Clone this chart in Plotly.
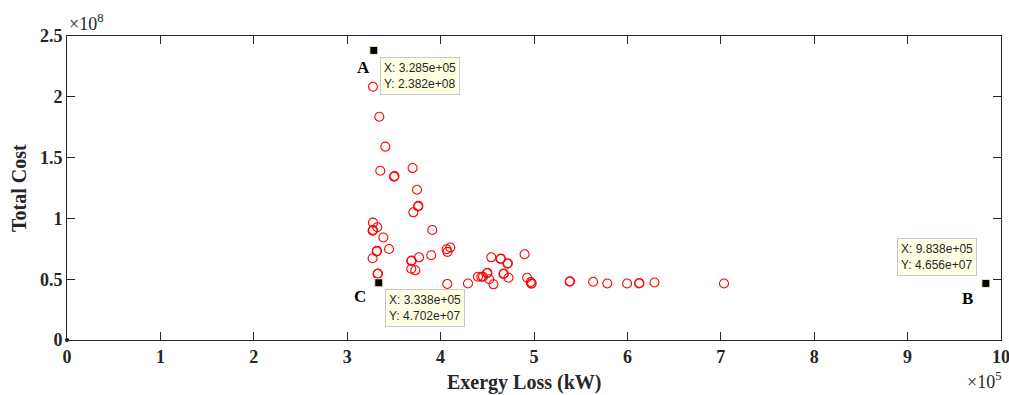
import plotly.graph_objects as go

# Pareto front data (Exergy loss in kW, Total cost)
exergy_loss = [
    3.276e5, 3.344e5, 3.408e5, 3.354e5, 3.501e5, 3.506e5, 3.700e5, 3.747e5, 3.758e5, 3.762e5,
    3.708e5, 3.276e5, 3.322e5, 3.272e5, 3.277e5, 3.387e5, 3.911e5, 3.315e5, 3.320e5, 3.448e5,
    4.064e5, 4.104e5, 4.074e5, 3.272e5, 3.686e5, 3.690e5, 3.769e5, 3.686e5, 3.729e5, 3.900e5,
    3.325e5, 3.329e5, 4.072e5, 4.293e5, 4.400e5, 4.436e5, 4.454e5, 4.497e5, 4.501e5, 4.521e5,
    4.566e5, 4.543e5, 4.642e5, 4.646e5, 4.716e5, 4.720e5, 4.673e5, 4.677e5, 4.727e5, 4.899e5,
    4.926e5, 4.966e5, 4.971e5, 4.975e5, 5.381e5, 5.385e5, 5.633e5, 5.785e5, 5.997e5, 6.125e5,
    6.129e5, 6.290e5, 7.034e5,
]
total_cost = [
    2.083e8, 1.836e8, 1.590e8, 1.392e8, 1.343e8, 1.348e8, 1.414e8, 1.236e8, 1.098e8, 1.103e8,
    1.050e8, 0.965e8, 0.927e8, 0.899e8, 0.904e8, 0.843e8, 0.905e8, 0.729e8, 0.733e8, 0.748e8,
    0.746e8, 0.761e8, 0.725e8, 0.672e8, 0.650e8, 0.654e8, 0.680e8, 0.586e8, 0.573e8, 0.697e8,
    0.543e8, 0.547e8, 0.461e8, 0.465e8, 0.520e8, 0.520e8, 0.520e8, 0.549e8, 0.553e8, 0.500e8,
    0.458e8, 0.680e8, 0.666e8, 0.670e8, 0.627e8, 0.631e8, 0.543e8, 0.547e8, 0.512e8, 0.705e8,
    0.512e8, 0.477e8, 0.463e8, 0.467e8, 0.479e8, 0.483e8, 0.479e8, 0.465e8, 0.465e8, 0.465e8,
    0.469e8, 0.473e8, 0.465e8,
]

# Highlighted data tips
tip_names = ["A", "B", "C"]
tip_x = [3.285e5, 9.838e5, 3.338e5]
tip_y = [2.382e8, 4.656e7, 4.702e7]

x_ticks = [i * 1e5 for i in range(11)]
x_ticklabels = [str(i) for i in range(11)]
y_ticks = [0, 0.5e8, 1e8, 1.5e8, 2e8, 2.5e8]
y_ticklabels = ["0", "0.5", "1", "1.5", "2", "2.5"]

W, H = 1009, 395
L, R, T, B = 67, 8, 36, 55
pw, ph = W - L - R, H - T - B

def px(xp):
    return (xp - L) / pw

def py(yp):
    return (H - B - yp) / ph

serif = "Liberation Serif"
ink = "#262626"

fig = go.Figure()
fig.add_trace(go.Scatter(
    x=exergy_loss, y=total_cost, mode="markers",
    marker=dict(symbol="circle-open", size=9, color="#FF0000", line=dict(width=1.1)),
    showlegend=False, hoverinfo="skip",
))
fig.add_trace(go.Scatter(
    x=[0], y=[0], mode="markers", cliponaxis=False,
    marker=dict(symbol="circle", size=4, color="black"),
    showlegend=False, hoverinfo="skip",
))
fig.add_trace(go.Scatter(
    x=tip_x, y=tip_y, mode="markers", cliponaxis=False,
    marker=dict(symbol="square", size=8, color="black", line=dict(width=1, color="#F5F0C8")),
    showlegend=False, hoverinfo="skip",
))

axis_common = dict(
    showline=True, linecolor=ink, linewidth=1, mirror="ticks",
    ticks="inside", ticklen=8, tickwidth=1, tickcolor=ink,
    showgrid=False, zeroline=False, automargin=False, ticklabeloverflow="allow",
    tickfont=dict(family=serif, size=18, color=ink, weight="bold"),
)

fig.update_layout(
    width=W, height=H,
    margin=dict(l=L, r=R, t=T, b=B, autoexpand=False),
    plot_bgcolor="white", paper_bgcolor="white",
    xaxis=dict(range=[0, 10e5], tickvals=x_ticks, ticktext=x_ticklabels, **axis_common),
    yaxis=dict(range=[0, 2.5e8], tickvals=y_ticks, ticktext=y_ticklabels, **axis_common),
)

annotations = []
# axis titles
annotations.append(dict(x=px(524), y=py(382), xref="paper", yref="paper", xanchor="center", yanchor="middle",
                        text="Exergy Loss (kW)", showarrow=False,
                        font=dict(family=serif, size=20, color=ink, weight="bold")))
annotations.append(dict(x=px(19), y=py(188), xref="paper", yref="paper", xanchor="center", yanchor="middle",
                        text="Total Cost", showarrow=False, textangle=-90,
                        font=dict(family=serif, size=20, color=ink, weight="bold")))
# exponent labels
annotations.append(dict(x=px(67), y=py(36), xref="paper", yref="paper", xanchor="left", yanchor="bottom",
                        text="×10<sup>8</sup>", showarrow=False,
                        font=dict(family=serif, size=18, color=ink)))
annotations.append(dict(x=px(1003), y=py(394), xref="paper", yref="paper", xanchor="right", yanchor="bottom",
                        text="×10<sup>5</sup>", showarrow=False,
                        font=dict(family=serif, size=18, color=ink)))

# point labels
label_pos = {"A": (363, 67), "B": (967, 298), "C": (360, 296)}
for name in tip_names:
    lx, ly = label_pos[name]
    annotations.append(dict(x=px(lx), y=py(ly), xref="paper", yref="paper", xanchor="center", yanchor="middle",
                            text=name, showarrow=False,
                            font=dict(family=serif, size=17, color="black", weight="bold")))

# data tip boxes (top-left pixel corners)
box_pos = {"A": (379.5, 57), "B": (897, 237.5), "C": (384.5, 289)}
for name, xv, yv in zip(tip_names, tip_x, tip_y):
    bx, by = box_pos[name]
    txt = f"X: {xv:.3e}<br>Y: {yv:.3e}"
    annotations.append(dict(x=px(bx), y=py(by), xref="paper", yref="paper", xanchor="left", yanchor="top",
                            text=txt, showarrow=False, align="left",
                            bgcolor="#FFFFE3", bordercolor="#C8C8C8", borderwidth=1, borderpad=3,
                            font=dict(family="Liberation Sans", size=12, color=ink)))

fig.update_layout(annotations=annotations)
fig.write_html(
    "out.html",
    config={"displayModeBar": False},
    post_script="document.body.style.margin='0';document.body.style.overflow='hidden';",
)
